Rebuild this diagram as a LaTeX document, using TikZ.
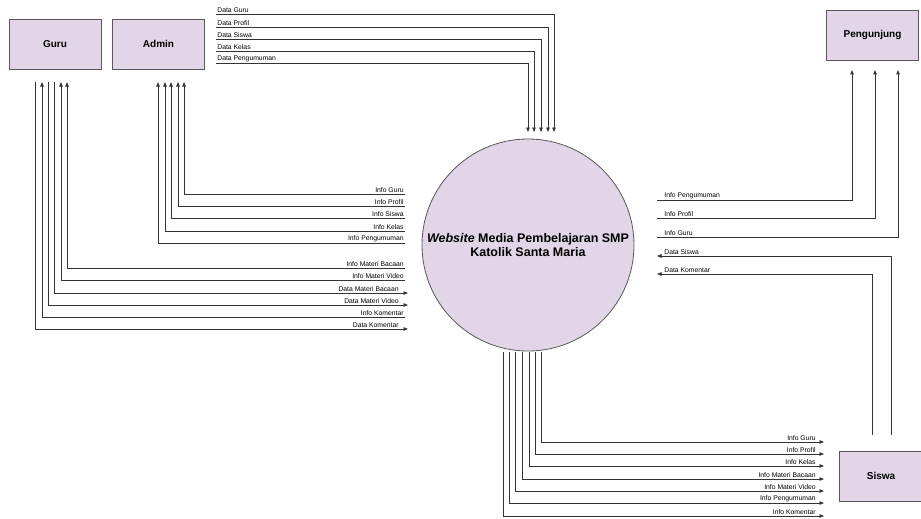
\documentclass[tikz,border=0pt]{standalone}
\usepackage{fontspec}
\setmainfont{Liberation Sans}
\usetikzlibrary{arrows.meta, positioning}

\definecolor{boxfill}{HTML}{E1D5E7}

\tikzset{
    entity/.style={draw=black!65, fill=boxfill, line width=.8pt, minimum width=92pt, minimum height=50pt, font=\fontsize{10}{12}\selectfont\bfseries},
    flow/.style={draw=black!80, line width=.75pt, -{Triangle[length=4.5pt,width=3.5pt]}},
    lbl/.style={font=\fontsize{6.8}{7}\selectfont, inner sep=1.2pt}
}

\begin{document}
\begin{tikzpicture}[x=1pt, y=-1pt]
    \useasboundingbox (0,0) rectangle (921,519);

    % external entities and the process
    \node[entity] (guru) at (55,44) {Guru};
    \node[entity] (admin) at (158.5,44) {Admin};
    \node[entity] (pengunjung) at (872.5,35) {Pengunjung};
    \node[entity, minimum width=84pt] (siswa) at (881,476) {Siswa};
    \node[circle, draw=black!65, fill=boxfill, line width=.8pt, minimum size=212pt] (web) at (528,245) {};
    \node[align=center, font=\fontsize{12.5}{14}\selectfont\bfseries] (webtext) at (web.center) {\textit{Website} Media Pembelajaran SMP\\Katolik Santa Maria};

    % admin -> website
    \foreach \lab/\y/\x [count=\i] in {Data Guru/14/554, Data Profil/27/548, Data Siswa/39/541, Data Kelas/51/534, Data Pengumuman/63/528}{
        \coordinate (ad\i) at (216,\y);
        \coordinate (wa\i) at (\x,132);
        \draw[flow] (ad\i) -| (wa\i);
        \node[lbl, anchor=south west] (adl\i) at (ad\i) {\lab};
    }

    % website -> admin
    \foreach \lab/\y/\x [count=\i] in {Info Guru/194/184, Info Profil/206/178, Info Siswa/218/171, Info Kelas/231/165, Info Pengumuman/243/158}{
        \coordinate (wb\i) at (405,\y);
        \coordinate (ai\i) at (\x,82);
        \draw[flow] (wb\i) -| (ai\i);
        \node[lbl, anchor=south east] (wbl\i) at (wb\i) {\lab};
    }

    % website -> guru
    \foreach \lab/\y/\x [count=\i] in {Info Materi Bacaan/268/67, Info Materi Video/280/61, Info Komentar/317/42}{
        \coordinate (wg\i) at (405,\y);
        \coordinate (gi\i) at (\x,82);
        \draw[flow] (wg\i) -| (gi\i);
        \node[lbl, anchor=south east] (wgl\i) at (wg\i) {\lab};
    }

    % guru -> website
    \foreach \lab/\y/\x [count=\i] in {Data Materi Bacaan/293/54, Data Materi Video/305/48, Data Komentar/329/35}{
        \coordinate (gd\i) at (\x,82);
        \coordinate (wd\i) at (408,\y);
        \draw[flow] (gd\i) |- (wd\i);
        \node[lbl, anchor=south east] (gdl\i) at (400,\y) {\lab};
    }

    % website -> pengunjung
    \foreach \lab/\y/\x [count=\i] in {Info Pengumuman/200/852, Info Profil/218/875, Info Guru/237/898}{
        \coordinate (wp\i) at (657,\y);
        \coordinate (pi\i) at (\x,70);
        \draw[flow] (wp\i) -| (pi\i);
        \node[lbl, anchor=south west] (wpl\i) at (663,\y) {\lab};
    }

    % siswa -> website
    \foreach \lab/\y/\x [count=\i] in {Data Siswa/256/891, Data Komentar/274/872}{
        \coordinate (sd\i) at (\x,435);
        \coordinate (ws\i) at (657,\y);
        \draw[flow] (sd\i) |- (ws\i);
        \node[lbl, anchor=south west] (sdl\i) at (663,\y) {\lab};
    }

    % website -> siswa
    \foreach \lab/\y/\x [count=\i] in {Info Guru/442/541, Info Profil/454/535, Info Kelas/466/529, Info Materi Bacaan/479/522, Info Materi Video/491/515, Info Pengumuman/503/509, Info Komentar/516/503}{
        \coordinate (wt\i) at (\x,352);
        \coordinate (si\i) at (824,\y);
        \draw[flow] (wt\i) |- (si\i);
        \node[lbl, anchor=south east] (wtl\i) at (817,\y) {\lab};
    }
\end{tikzpicture}
\end{document}
